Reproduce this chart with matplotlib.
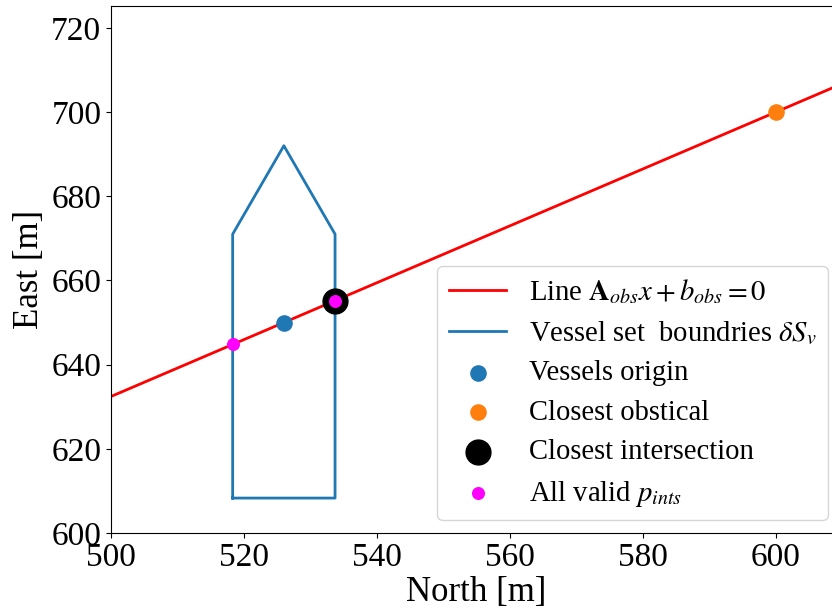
import numpy as np
import matplotlib
matplotlib.use("Agg")
import matplotlib.pyplot as plt

plt.rcParams["font.family"] = ["Liberation Serif", "DejaVu Serif"]
plt.rcParams["mathtext.fontset"] = "stix"

# Obstacle line through the closest obstacle and the vessel origin
line_north = [500.0, 612.0]
line_slope = 50.0 / 74.0
obstacle = (600.0, 700.0)

# Vessel outline (north, east)
vessel_north = [518.3, 518.3, 526.0, 533.7, 533.7, 518.3]
vessel_east = [608.3, 671.0, 692.0, 671.0, 608.3, 608.3]

origin = (526.0, 650.0)
closest_int = (533.7, 655.2)
valid_north = [518.3, 533.7]
valid_east = [644.8, 655.2]

W, H = 832, 615
fig = plt.figure(figsize=(W / 100, H / 100), dpi=100)
ax = fig.add_axes([111 / W, 82 / H, (841 - 111) / W, 527 / H])

line_east = [obstacle[1] + line_slope * (n - obstacle[0]) for n in line_north]
ax.plot(line_north, line_east, color="red", lw=2,
        label=r"Line $\mathbf{A}_{obs}x + b_{obs} = 0$")
ax.plot(vessel_north, vessel_east, color="#1f77b4", lw=2,
        label=r"Vessel set  boundries $\delta S_v$")
ax.scatter([origin[0]], [origin[1]], s=120, color="#1f77b4", label="Vessels origin", zorder=3)
ax.scatter([obstacle[0]], [obstacle[1]], s=120, color="#ff7f0e", label="Closest obstical", zorder=3)
ax.scatter([closest_int[0]], [closest_int[1]], s=320, color="black", label="Closest intersection", zorder=3)
ax.scatter(valid_north, valid_east, s=70, color="magenta", label=r"All valid $p_{ints}$", zorder=4)

ax.set_xlim(500, 609.8)
ax.set_ylim(600, 725.2)
ax.set_xticks([500, 520, 540, 560, 580, 600])
ax.set_yticks([600, 620, 640, 660, 680, 700, 720])
ax.tick_params(labelsize=24)
ax.set_xlabel("North [m]", fontsize=25, labelpad=2)
ax.set_ylabel("East [m]", fontsize=25)

ax.legend(loc="lower right", fontsize=20.6, framealpha=0.8, borderaxespad=0.45,
          labelspacing=0.47)

fig.savefig("out.png", dpi=100)
